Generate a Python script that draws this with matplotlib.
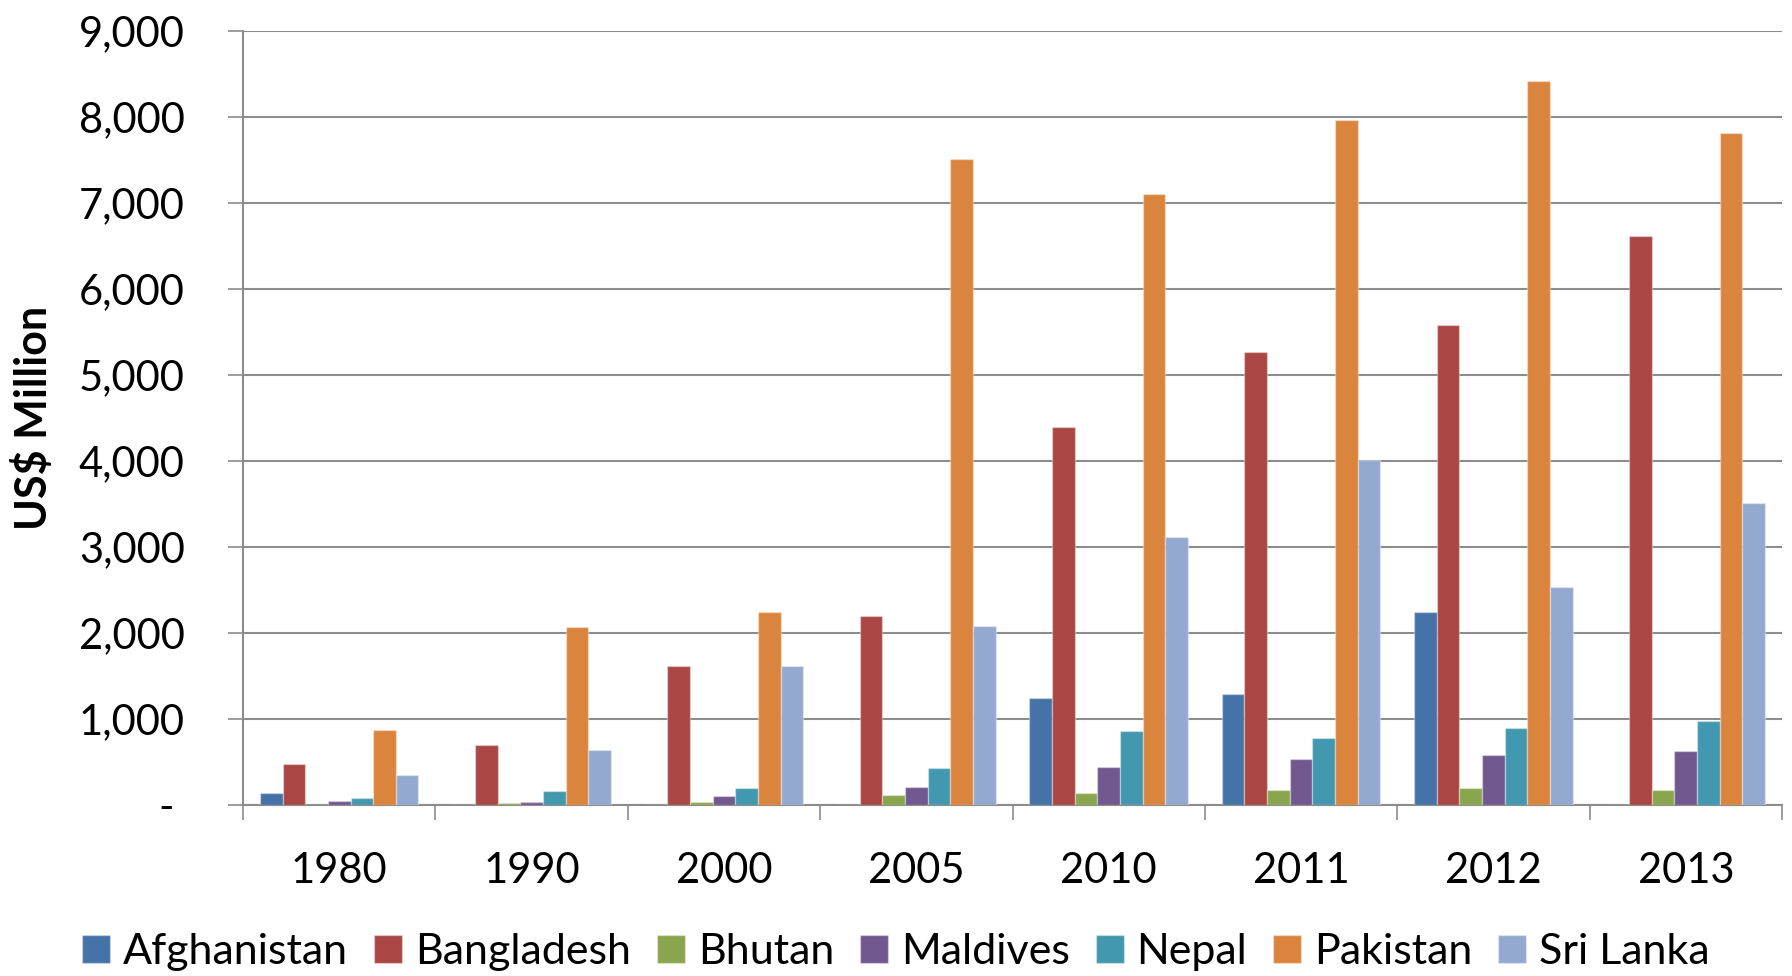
import numpy as np
import matplotlib
matplotlib.use('Agg')
import matplotlib.pyplot as plt
from matplotlib.ticker import FixedLocator, FuncFormatter

years = ['1980', '1990', '2000', '2005', '2010', '2011', '2012', '2013']
countries = ['Afghanistan', 'Bangladesh', 'Bhutan', 'Maldives', 'Nepal', 'Pakistan', 'Sri Lanka']

# US$ million, one list per country
afghanistan = [140, 0, 0, 0, 1250, 1290, 2240, 0]
bangladesh = [477, 694, 1620, 2200, 4390, 5270, 5580, 6615]
bhutan = [0, 23, 35, 120, 136, 174, 194, 174]
maldives = [43, 31, 105, 205, 446, 539, 581, 628]
nepal = [81, 163, 198, 430, 864, 779, 891, 973]
pakistan = [872, 2072, 2244, 7508, 7105, 7965, 8422, 7817]
sri_lanka = [349, 636, 1620, 2085, 3113, 4012, 2531, 3506]

series = [afghanistan, bangladesh, bhutan, maldives, nepal, pakistan, sri_lanka]
colors = ['#4572A7', '#AA4643', '#89A54E', '#71588F', '#4198AF', '#DB843D', '#93A9CF']

plt.rcParams['font.family'] = ['Lato', 'DejaVu Sans']
grid_color = '#8c8c8c'

fig = plt.figure(figsize=(17.92, 9.76), dpi=100)
ax = fig.add_axes([243 / 1792, 1 - 805 / 976, (1782 - 243) / 1792, (805 - 31) / 976])

n = len(series)
width = 1 / (n + 1.5)
centers = np.arange(len(years)) + 0.5
for j, (vals, name, col) in enumerate(zip(series, countries, colors)):
    ax.bar(centers + (j - (n - 1) / 2) * width, vals, width, color=col, label=name,
           edgecolor=(1, 1, 1, 0.35), linewidth=1, zorder=3)

ax.set_xlim(0, len(years))
ax.set_ylim(0, 9000)

# y axis
ax.set_yticks(np.arange(0, 9001, 1000))
ax.yaxis.set_major_formatter(FuncFormatter(lambda v, p: '- ' if v == 0 else f'{int(v):,}'))
ax.yaxis.grid(True, color=grid_color, linewidth=1.5, zorder=0)
ax.tick_params(axis='y', which='major', length=11, width=1.2, color=grid_color,
               labelsize=30, pad=31)
ax.set_ylabel('US$ Million', fontsize=31, fontweight='bold')
ax.yaxis.set_label_coords(-(243 - 33) / 1539, 0.5)
ax.yaxis.label.set_verticalalignment('center')

# x axis: ticks at group boundaries, labels at group centres
ax.xaxis.set_major_locator(FixedLocator(np.arange(len(years) + 1)))
ax.xaxis.set_major_formatter(FuncFormatter(lambda v, p: ''))
ax.xaxis.set_minor_locator(FixedLocator(centers))
ax.set_xticklabels(years, minor=True)
ax.tick_params(axis='x', which='major', length=11, width=1.2, color=grid_color)
ax.tick_params(axis='x', which='minor', length=0, labelsize=30, pad=34)

for side in ['top', 'right']:
    ax.spines[side].set_visible(False)
for side in ['left', 'bottom']:
    ax.spines[side].set_color(grid_color)
    ax.spines[side].set_linewidth(1.5)
ax.set_axisbelow(True)

fig.legend(loc='center', bbox_to_anchor=(0.5, 1 - 952 / 976), ncol=7, frameon=False,
           fontsize=31, handlelength=0.65, handleheight=0.65, handletextpad=0.3,
           columnspacing=0.6, borderaxespad=0)

fig.savefig('out.png', dpi=100)
